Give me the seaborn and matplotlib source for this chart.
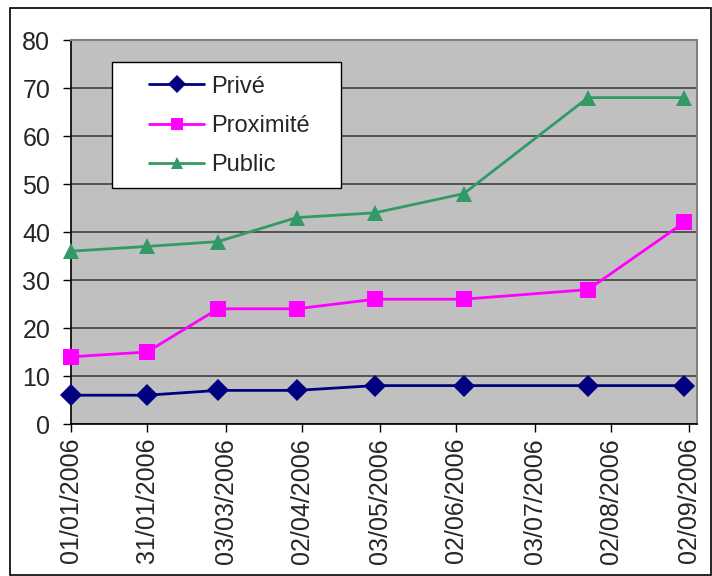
import pandas as pd
import seaborn as sns
import matplotlib.pyplot as plt
import matplotlib.dates as mdates
from matplotlib.patches import Rectangle

# data
dates = ["2006-01-01", "2006-01-31", "2006-02-28", "2006-03-31",
         "2006-05-01", "2006-06-05", "2006-07-24", "2006-08-31"]
prive = [6, 6, 7, 7, 8, 8, 8, 8]
proximite = [14, 15, 24, 24, 26, 26, 28, 42]
public = [36, 37, 38, 43, 44, 48, 68, 68]
tick_dates = ["2006-01-01", "2006-01-31", "2006-03-03", "2006-04-02", "2006-05-03",
              "2006-06-02", "2006-07-03", "2006-08-02", "2006-09-02"]

df = pd.DataFrame({"Date": pd.to_datetime(dates), "Privé": prive,
                   "Proximité": proximite, "Public": public})
long_df = df.melt(id_vars="Date", var_name="Série", value_name="Valeur")

sns.set_theme(style="white")
plt.rcParams["font.family"] = ["Liberation Sans", "DejaVu Sans"]

fig = plt.figure(figsize=(7.12, 5.76), dpi=100)
ax = fig.add_axes([71 / 712, 1 - 424 / 576, 626 / 712, 384 / 576])
ax.set_facecolor("#C0C0C0")

palette = {"Privé": "#000080", "Proximité": "#FF00FF", "Public": "#339966"}
markers = {"Privé": "D", "Proximité": "s", "Public": "^"}
sns.lineplot(data=long_df, x="Date", y="Valeur", hue="Série", style="Série",
             palette=palette, markers=markers, dashes=False, linewidth=2,
             markersize=11, markeredgewidth=0, ax=ax, clip_on=False, zorder=3)

ax.set_ylim(0, 80)
ax.set_yticks(range(0, 81, 10))
ax.set_xlim(pd.Timestamp("2006-01-01"), pd.Timestamp("2006-09-05"))
ax.set_xticks(pd.to_datetime(tick_dates))
ax.xaxis.set_major_formatter(mdates.DateFormatter("%d/%m/%Y"))
ax.tick_params(axis="x", rotation=90, labelsize=18, length=6, width=1,
               color="black", direction="out", bottom=True, pad=4)
ax.tick_params(axis="y", labelsize=18, length=6, width=1,
               color="black", direction="out", left=True, pad=9)
ax.set_xlabel("")
ax.set_ylabel("")
ax.yaxis.grid(True, color="#404040", linewidth=1.2)
ax.set_axisbelow(True)
for side in ["left", "bottom"]:
    ax.spines[side].set_color("black")
    ax.spines[side].set_linewidth(1.2)
for side in ["top", "right"]:
    ax.spines[side].set_color("#808080")
    ax.spines[side].set_linewidth(1.5)

# white legend box drawn separately, legend entries placed inside it
ax.add_patch(Rectangle((0.065, 0.6154), 0.3663, 0.328, transform=ax.transAxes,
                       facecolor="white", edgecolor="black", linewidth=1,
                       zorder=4))
leg = ax.legend(loc="upper left", bbox_to_anchor=(0.1246, 0.907),
                fontsize=17, frameon=False, labelspacing=0.73,
                handlelength=2.35, borderpad=0, handletextpad=0.3,
                borderaxespad=0)
leg.set_zorder(5)
for line in leg.get_lines():
    line.set_linewidth(2)
    line.set_markersize(9)

fig.patches.append(Rectangle((10 / 712, 1 / 576), 701 / 712, 567 / 576,
                             transform=fig.transFigure, fill=False,
                             edgecolor="black", linewidth=1.2))

fig.savefig("out.png", dpi=100)
